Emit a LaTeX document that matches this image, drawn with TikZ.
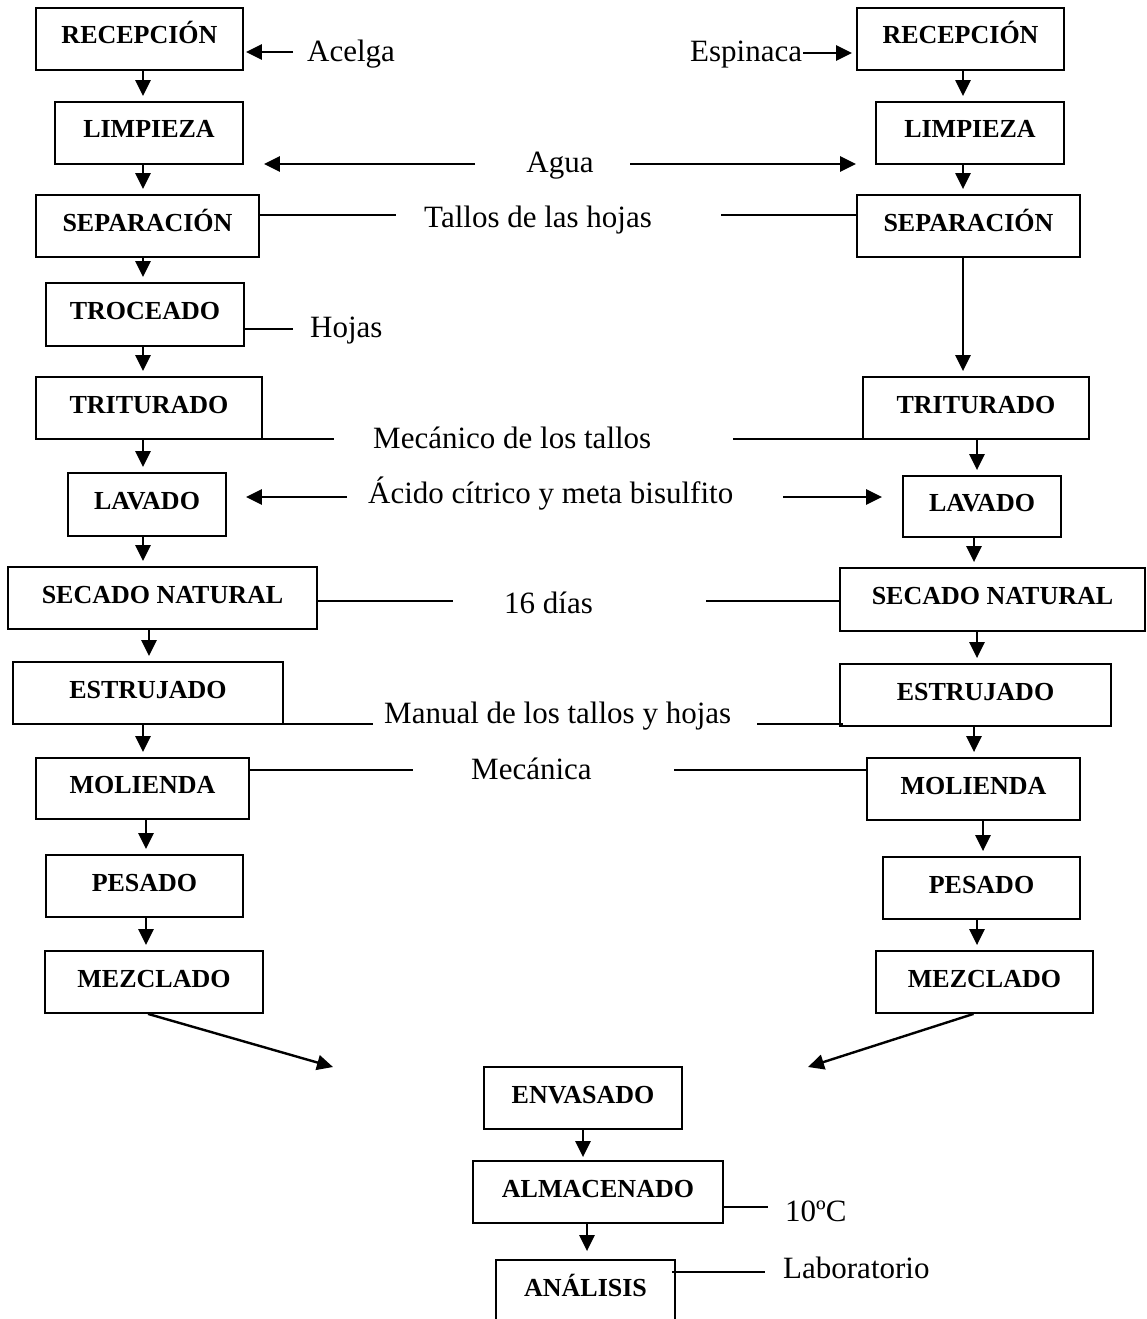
\documentclass[tikz,border=0pt]{standalone}
\usepackage{fontspec}
\setmainfont{Liberation Serif}
\usetikzlibrary{arrows.meta}
\tikzset{
  box/.style={draw, line width=1.8pt, inner sep=0pt,
    font=\fontsize{26}{30}\selectfont\bfseries, text height=17pt, text depth=7pt},
  boxline/.style={line width=1.8pt},
  txt/.style={inner sep=0pt, font=\fontsize{31}{36}\selectfont, anchor=base west},
  arr/.style={line width=2.4pt, -{Triangle[length=16pt,width=15pt]}},
  ln/.style={line width=1.4pt}
}
\newcommand\mybox[6]{\node[box,minimum width={#4pt-#2pt},minimum height={#5pt-#3pt}] (#1) at ({(#2+#4)/2},{(#3+#5)/2}) {#6};}
\begin{document}
\begin{tikzpicture}[x=1pt,y=-1pt]
\useasboundingbox (0,0) rectangle (1147,1319);
% left column
\mybox{L1}{36}{8}{243}{70}{RECEPCIÓN}
\mybox{L2}{55}{102}{243}{164}{LIMPIEZA}
\mybox{L3}{36}{195}{259}{257}{SEPARACIÓN}
\mybox{L4}{46}{283}{244}{346}{TROCEADO}
\mybox{L5}{36}{377}{262}{439}{TRITURADO}
\mybox{L6}{68}{473}{226}{536}{LAVADO}
\mybox{L7}{8}{567}{317}{629}{SECADO NATURAL}
\mybox{L8}{13}{662}{283}{724}{ESTRUJADO}
\mybox{L9}{36}{758}{249}{819}{MOLIENDA}
\mybox{L10}{46}{855}{243}{917}{PESADO}
\mybox{L11}{45}{951}{263}{1013}{MEZCLADO}
% right column
\mybox{R1}{857}{8}{1064}{70}{RECEPCIÓN}
\mybox{R2}{876}{102}{1064}{164}{LIMPIEZA}
\mybox{R3}{857}{195}{1080}{257}{SEPARACIÓN}
\mybox{R5}{863}{377}{1089}{439}{TRITURADO}
\mybox{R6}{903}{476}{1061}{537}{LAVADO}
\mybox{R7}{840}{568}{1145}{631}{SECADO NATURAL}
\mybox{R8}{840}{664}{1111}{726}{ESTRUJADO}
\mybox{R9}{867}{758}{1080}{820}{MOLIENDA}
\mybox{R10}{883}{857}{1080}{919}{PESADO}
\mybox{R11}{876}{951}{1093}{1013}{MEZCLADO}
% bottom
\mybox{E}{484}{1067}{682}{1129}{ENVASADO}
\mybox{A}{473}{1161}{723}{1223}{ALMACENADO}
\node[box,draw=none,minimum width=177pt,minimum height=61pt] (N) at (585.5,1291.5) {ANÁLISIS};
\draw[boxline] (N.south west) |- (N.north east) -- (N.south east);
% texts
\node[txt] (acelga) at (307,62) {Acelga};
\node[txt] (espinaca) at (690,62) {Espinaca};
\node[txt,anchor=base] (agua) at (560,172) {Agua};
\node[txt] (tallos) at (424,227) {Tallos de las hojas};
\node[txt] (hojas) at (310,337) {Hojas};
\node[txt] (mecanico) at (373,448) {Mecánico de los tallos};
\node[txt] (acido) at (368,503) {Ácido cítrico y meta bisulfito};
\node[txt] (dias) at (504,613) {16 días};
\node[txt] (manual) at (384,723) {Manual de los tallos y hojas};
\node[txt] (mecanica) at (471,779) {Mecánica};
\node[txt] (temp) at (785,1221) {10ºC};
\node[txt] (lab) at (783,1278) {Laboratorio};
% vertical arrows left
\draw[arr,shorten >=5pt] (L1.south -| 143,0) -- (L2.north -| 143,0);
\draw[arr,shorten >=5pt] (L2.south -| 143,0) -- (L3.north -| 143,0);
\draw[arr,shorten >=5pt] (L3.south -| 143,0) -- (L4.north -| 143,0);
\draw[arr,shorten >=5pt] (L4.south -| 143,0) -- (L5.north -| 143,0);
\draw[arr,shorten >=5pt] (L5.south -| 143,0) -- (L6.north -| 143,0);
\draw[arr,shorten >=5pt] (L6.south -| 143,0) -- (L7.north -| 143,0);
\draw[arr,shorten >=5pt] (L7.south -| 149,0) -- (L8.north -| 149,0);
\draw[arr,shorten >=5pt] (L8.south -| 143,0) -- (L9.north -| 143,0);
\draw[arr,shorten >=5pt] (L9.south -| 146,0) -- (L10.north -| 146,0);
\draw[arr,shorten >=5pt] (L10.south -| 146,0) -- (L11.north -| 146,0);
% vertical arrows right
\draw[arr,shorten >=5pt] (R1.south -| 963,0) -- (R2.north -| 963,0);
\draw[arr,shorten >=5pt] (R2.south -| 963,0) -- (R3.north -| 963,0);
\draw[arr,shorten >=5pt] (R3.south -| 963,0) -- (R5.north -| 963,0);
\draw[arr,shorten >=5pt] (R5.south -| 977,0) -- (R6.north -| 977,0);
\draw[arr,shorten >=5pt] (R6.south -| 974,0) -- (R7.north -| 974,0);
\draw[arr,shorten >=5pt] (R7.south -| 977,0) -- (R8.north -| 977,0);
\draw[arr,shorten >=5pt] (R8.south -| 974,0) -- (R9.north -| 974,0);
\draw[arr,shorten >=5pt] (R9.south -| 983,0) -- (R10.north -| 983,0);
\draw[arr,shorten >=5pt] (R10.south -| 977,0) -- (R11.north -| 977,0);
% bottom arrows
\coordinate (mL) at (333,1067);
\coordinate (mR) at (808,1067);
\draw[arr] ([xshift=-6pt]L11.south) -- (mL);
\draw[arr] ([xshift=-11pt]R11.south) -- (mR);
\draw[arr,shorten >=3pt] (E.south -| 583,0) -- (A.north -| 583,0);
\draw[arr,shorten >=9pt] (A.south -| 587,0) -- (N.north -| 587,0);
% input arrows
\coordinate (ac) at (293,52);
\draw[arr,shorten >=2pt] (ac) -- (ac -| L1.east);
\coordinate (es) at (803,53);
\draw[arr,shorten >=4pt] (es) -- (es -| R1.west);
\coordinate (ag1) at (475,164);
\draw[arr,shorten >=20pt] (ag1) -- (ag1 -| L2.east);
\coordinate (ag2) at (630,164);
\draw[arr,shorten >=19pt] (ag2) -- (ag2 -| R2.west);
\coordinate (ci1) at (347,497);
\draw[arr,shorten >=19pt] (ci1) -- (ci1 -| L6.east);
\coordinate (ci2) at (783,497);
\draw[arr,shorten >=20pt] (ci2) -- (ci2 -| R6.west);
% plain lines
\coordinate (t1) at (396,215);
\draw[ln] (t1 -| L3.east) -- (t1);
\coordinate (t2) at (721,215);
\draw[ln] (t2) -- (t2 -| R3.west);
\coordinate (h1) at (293,329);
\draw[ln] ([xshift=-2pt]h1 -| L4.east) -- (h1);
\coordinate (mc1) at (334,439);
\draw[ln] (mc1 -| L5.east) -- (mc1);
\coordinate (mc2) at (733,439);
\draw[ln] (mc2) -- (mc2 -| R5.west);
\coordinate (d1) at (453,601);
\draw[ln] (d1 -| L7.east) -- (d1);
\coordinate (d2) at (706,601);
\draw[ln] (d2) -- (d2 -| R7.west);
\coordinate (mn1) at (373,724);
\draw[ln] ([xshift=-9pt]mn1 -| L8.east) -- (mn1);
\coordinate (mn2) at (757,724);
\draw[ln] (mn2) -- ([xshift=4pt]mn2 -| R8.west);
\coordinate (ma1) at (413,770);
\draw[ln] (ma1 -| L9.east) -- (ma1);
\coordinate (ma2) at (674,770);
\draw[ln] (ma2) -- (ma2 -| R9.west);
\coordinate (tc) at (768,1207);
\draw[ln] (tc -| A.east) -- (tc);
\coordinate (lb) at (765,1272);
\draw[ln] ([xshift=-3pt]lb -| N.east) -- (lb);
\end{tikzpicture}
\end{document}
